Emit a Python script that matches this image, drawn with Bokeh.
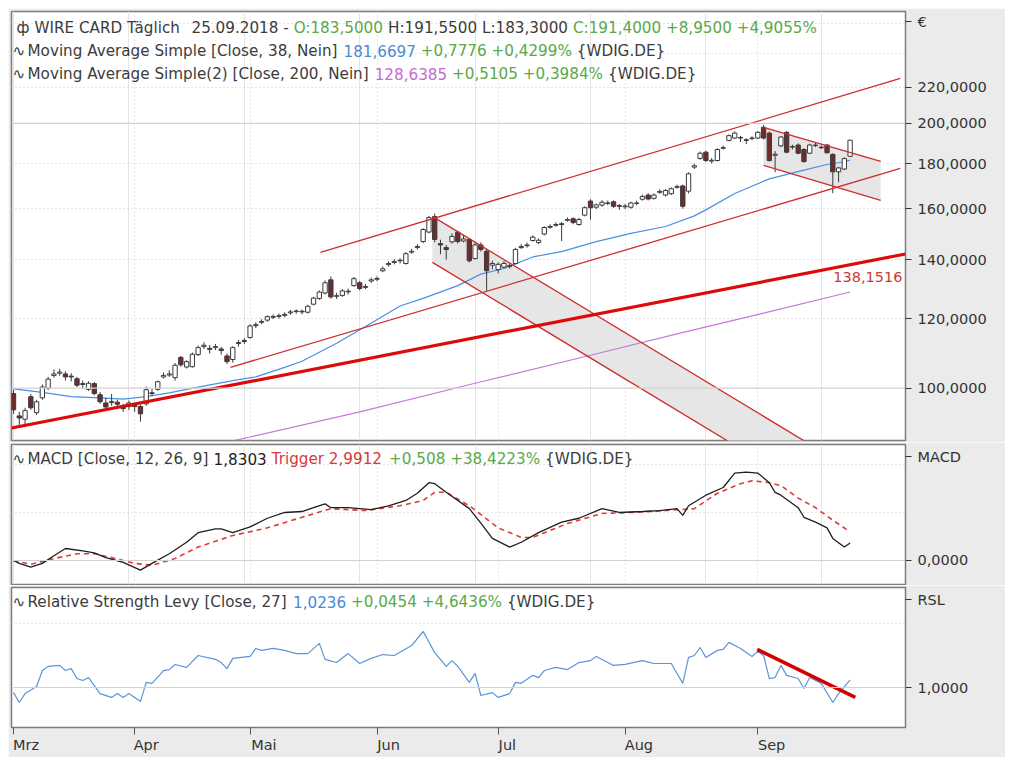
import math
from bokeh.plotting import figure
from bokeh.models import Range1d, FixedTicker, CustomJSTickFormatter, Label, Span, Grid, ColumnDataSource
from bokeh.layouts import column
from bokeh.embed import file_html
from bokeh.resources import INLINE

# ---------------- data ----------------
MONTH_TICKS = [0, 21, 41, 63, 84, 106, 129]
MONTH_NAMES = ["Mrz", "Apr", "Mai", "Jun", "Jul", "Aug", "Sep"]

OPEN = [98.6, 93.0, 92.2, 97.8, 93.8, 97.5, 100.0, 103.4, 104.0, 103.8,
        103.2, 102.5, 101.2, 99.7, 101.2, 98.3, 96.2, 96.3, 96.4, 95.2,
        95.3, 95.6, 95.3, 96.0, 98.8, 99.7, 103.0, 103.5, 102.8, 108.4,
        105.7, 105.8, 109.2, 111.5, 111.0, 111.2, 110.8, 108.8, 107.8, 112.4,
        113.0, 114.2, 117.8, 118.8, 119.5, 120.4, 120.7, 121.0, 121.8, 122.2,
        122.3, 122.0, 124.6, 126.5, 128.3, 132.8, 127.2, 127.5, 128.9, 130.8,
        131.8, 130.2, 132.4, 133.0, 136.0, 138.2, 139.0, 139.8, 138.6, 142.8,
        144.5, 146.8, 150.5, 156.7, 146.0, 144.5, 146.7, 150.4, 147.0, 147.6,
        140.4, 145.5, 143.1, 138.0, 136.4, 137.3, 137.8, 138.6, 144.5, 145.2,
        147.2, 146.4, 149.7, 152.4, 153.2, 153.8, 155.2, 155.8, 153.5, 157.3,
        163.2, 160.6, 161.5, 162.2, 162.9, 161.3, 160.8, 160.6, 162.2, 164.0,
        165.8, 164.4, 167.0, 165.8, 166.4, 169.2, 169.8, 167.5, 178.4, 182.5,
        185.5, 181.2, 181.5, 187.4, 191.3, 192.5, 192.8, 191.6, 192.2, 192.5,
        198.0, 195.0, 184.0, 188.6, 195.4, 188.2, 189.0, 186.8, 185.0, 188.7,
        187.9, 189.0, 184.4, 176.2, 177.5, 183.5]
HIGH = [99.5, 94.0, 95.0, 98.5, 97.0, 101.0, 103.0, 105.0, 105.2, 104.5,
        104.0, 103.0, 102.0, 101.8, 101.6, 99.0, 97.5, 98.5, 97.0, 96.0,
        96.8, 96.3, 95.8, 100.4, 99.8, 102.0, 104.2, 104.8, 106.8, 108.8,
        107.6, 109.8, 111.8, 112.8, 112.0, 112.3, 111.4, 109.5, 111.6, 113.4,
        114.0, 118.2, 118.8, 119.8, 121.0, 121.3, 121.6, 122.0, 122.8, 122.9,
        122.9, 124.4, 127.0, 129.2, 132.6, 134.0, 128.4, 129.6, 129.8, 133.8,
        132.4, 131.4, 133.6, 134.0, 137.5, 139.4, 140.2, 140.5, 142.8, 144.0,
        145.8, 152.0, 157.0, 158.0, 147.5, 145.5, 150.0, 151.0, 149.5, 148.2,
        146.5, 146.5, 144.0, 139.6, 139.0, 139.5, 138.6, 144.4, 145.8, 146.4,
        149.2, 148.0, 152.8, 153.6, 154.4, 154.5, 156.4, 156.4, 156.2, 161.0,
        164.0, 162.2, 163.6, 163.4, 163.5, 162.0, 162.0, 163.0, 163.4, 166.0,
        166.6, 166.5, 168.3, 168.4, 169.2, 170.4, 170.4, 176.0, 180.0, 185.8,
        186.2, 182.6, 187.4, 188.8, 194.3, 195.8, 193.6, 192.4, 193.4, 196.0,
        199.2, 195.8, 186.0, 193.5, 196.0, 189.2, 189.8, 187.5, 189.6, 190.0,
        188.8, 189.6, 185.0, 178.5, 183.0, 191.55]
LOW = [93.5, 90.8, 90.3, 94.5, 93.2, 97.0, 99.5, 102.8, 103.3, 102.0,
       101.8, 100.3, 99.8, 99.3, 98.2, 96.0, 94.5, 95.5, 94.8, 94.0,
       94.5, 94.0, 91.6, 95.5, 98.0, 99.3, 102.6, 103.0, 102.0, 105.8,
       105.3, 105.5, 108.8, 110.8, 109.5, 110.5, 109.2, 106.5, 106.9, 111.5,
       112.3, 113.8, 117.0, 118.2, 119.0, 119.8, 120.0, 120.4, 121.2, 121.5,
       121.3, 121.6, 124.2, 126.0, 127.8, 126.4, 126.3, 127.0, 127.8, 130.4,
       129.2, 129.6, 131.8, 132.3, 135.5, 137.5, 138.3, 138.6, 138.2, 142.2,
       143.8, 146.2, 150.0, 146.5, 142.0, 140.0, 146.0, 146.0, 146.5, 139.0,
       140.0, 143.0, 129.0, 136.5, 135.0, 136.8, 136.8, 138.2, 144.0, 144.5,
       146.8, 145.8, 149.2, 151.8, 152.6, 147.0, 154.6, 153.6, 153.0, 156.8,
       155.5, 159.8, 160.8, 161.5, 160.3, 159.5, 159.8, 160.0, 161.5, 163.4,
       163.5, 163.8, 166.3, 165.2, 165.8, 168.6, 160.0, 166.5, 177.5, 181.8,
       180.8, 180.2, 181.0, 186.8, 190.8, 192.0, 190.5, 189.5, 191.5, 192.0,
       191.8, 181.0, 176.0, 188.0, 185.0, 186.8, 184.5, 180.5, 184.6, 188.0,
       187.0, 184.8, 166.6, 171.5, 177.0, 183.3]
CLOSE = [94.5, 92.5, 94.3, 95.0, 96.5, 100.3, 102.4, 103.8, 104.3, 103.0,
         103.0, 100.8, 101.0, 101.3, 98.6, 96.5, 95.2, 96.6, 95.9, 94.8,
         96.2, 95.3, 93.5, 99.6, 98.6, 101.7, 103.4, 103.8, 106.2, 106.3,
         107.2, 109.3, 111.2, 111.9, 110.7, 111.5, 110.4, 107.2, 111.2, 112.7,
         113.3, 117.7, 118.1, 119.1, 120.6, 120.6, 120.9, 121.3, 122.1, 122.4,
         122.1, 123.9, 126.6, 128.6, 131.8, 127.0, 127.4, 129.0, 128.7, 133.2,
         129.8, 130.5, 132.8, 133.3, 136.7, 138.6, 139.3, 139.6, 142.2, 143.1,
         144.9, 151.5, 156.3, 147.6, 145.5, 143.8, 148.8, 146.8, 147.8, 139.6,
         145.5, 143.8, 136.0, 138.6, 138.3, 138.6, 137.6, 143.8, 144.9, 145.5,
         148.5, 147.3, 152.3, 152.7, 153.5, 153.5, 155.5, 154.3, 155.5, 160.4,
         160.4, 161.6, 162.7, 162.4, 161.0, 161.0, 161.1, 162.4, 162.4, 165.2,
         164.1, 165.8, 167.4, 167.8, 168.6, 169.5, 161.0, 175.3, 179.0, 185.0,
         181.5, 181.6, 186.8, 187.7, 193.7, 195.0, 192.5, 191.3, 192.5, 195.4,
         192.5, 181.5, 184.5, 193.0, 185.5, 188.0, 185.0, 181.0, 189.0, 189.0,
         187.7, 185.2, 176.2, 178.0, 182.4, 191.4]
IDX = list(range(len(CLOSE)))

PRICE_TICKS = [100, 120, 140, 160, 180, 200, 220]
PRICE_GRID_DOTTED = [120, 140, 160, 180, 220, 240, 260]
PRICE_GRID_SOLID = [100, 200]

MA38_IDX = [0, 5, 10, 15, 19, 23, 27, 32, 38, 42, 47, 50, 56, 61, 67, 71, 77, 81,
            85, 90, 95, 101, 107, 113, 118, 120, 125, 131, 137, 141, 144, 145]
MA38_VAL = [99.8, 98.9, 97.8, 97.5, 97.2, 97.8, 98.8, 100.3, 102.0, 103.0, 105.6, 107.3,
            112.5, 117.5, 124.0, 126.5, 130.8, 134.8, 136.8, 141.0, 143.0, 146.8, 150.0,
            152.7, 157.0, 159.5, 166.5, 173.0, 177.0, 179.6, 180.9, 181.67]
MA200_IDX = [30, 41, 60, 80, 100, 115, 130, 145]
MA200_VAL = [84.8, 88.0, 94.0, 101.3, 109.0, 115.3, 121.7, 128.64]

TREND_X = [-0.35, 154.6]
TREND_Y = [90.1, 142.1]
TREND_LABEL = "138,1516"
CH_UP_X = [53.2, 153.7]
CH_UP_Y = [142.7, 225.0]
CH_LO_X = [37.6, 153.7]
CH_LO_Y = [105.6, 177.8]
JUN_UP_X = [72.6, 140.0]
JUN_UP_Y = [156.8, 84.8]
JUN_LO_X = [72.6, 128.0]
JUN_LO_Y = [139.0, 83.8]
SEP_UP_X = [130.0, 150.3]
SEP_UP_Y = [197.9, 181.1]
SEP_LO_X = [130.0, 150.3]
SEP_LO_Y = [179.2, 163.5]

MACD_IDX = [0, 1, 3, 5, 7, 9, 12, 14, 16, 19, 22, 24, 27, 30, 32, 35, 36, 38, 41, 44,
            47, 50, 52, 54, 55, 58, 62, 65, 68, 70, 72, 73, 75, 79, 81, 83, 86, 88, 91, 95,
            98, 102, 105, 109, 112, 115, 116, 117, 120, 123, 125, 127, 129, 131, 132, 133,
            136, 137, 139, 141, 142, 144, 145]
MACD_VAL = [0.0, -0.3, -0.7, -0.3, 0.5, 1.25, 1.0, 0.8, 0.3, -0.2, -1.0, -0.3, 0.7, 1.9,
            2.9, 3.3, 3.3, 2.9, 3.5, 4.4, 5.0, 5.1, 5.5, 5.9, 5.5, 5.5, 5.3, 5.7, 6.25, 7.0,
            8.1, 8.0, 7.1, 5.4, 3.9, 2.3, 1.4, 1.9, 2.9, 4.0, 4.4, 5.4, 5.0, 5.1, 5.2, 5.4,
            4.7, 5.7, 6.8, 7.6, 9.1, 9.2, 9.1, 8.1, 7.1, 6.8, 5.5, 4.5, 4.0, 3.4, 2.3, 1.4,
            1.83]
TRIG_IDX = [0, 3, 7, 11, 14, 17, 21, 24, 28, 32, 38, 44, 50, 55, 61, 67, 71, 73, 75, 79,
            84, 88, 90, 96, 102, 107, 113, 118, 122, 126, 128, 131, 133, 136, 139, 142, 145]
TRIG_VAL = [0.0, -0.4, 0.2, 0.7, 0.7, 0.3, -0.3, -0.5, 0.2, 1.4, 2.6, 3.4, 4.5, 5.4, 5.2,
            5.7, 6.25, 7.1, 7.1, 5.7, 3.4, 2.4, 2.4, 3.85, 4.9, 5.0, 5.2, 5.4, 7.0, 8.0, 8.3,
            8.1, 7.8, 6.5, 5.5, 4.2, 2.99]
MACD_GRID = [5, 10]

RSL_IDX = [0, 1, 2, 4, 5, 6, 8, 9, 10, 11, 12, 13, 15, 17, 18, 19, 20, 22, 23, 24,
           26, 27, 28, 30, 32, 35, 36, 37, 38, 41, 42, 43, 45, 47, 49, 51, 53, 54, 56, 58,
           60, 62, 64, 66, 69, 71, 73, 75, 76, 77, 79, 80, 81, 83, 84, 86, 87, 88, 90, 91,
           92, 94, 96, 98, 100, 101, 104, 106, 109, 111, 114, 116, 117, 118, 119, 120, 122,
           123, 124, 126, 128, 129, 130, 131, 132, 133, 134, 136, 137, 138, 140, 142, 143, 145]
RSL_VAL = [0.984, 0.953, 0.981, 1.003, 1.053, 1.066, 1.069, 1.053, 1.059, 1.028, 1.022,
           1.031, 0.981, 0.969, 0.981, 0.969, 0.981, 0.956, 1.016, 1.013, 1.053, 1.056,
           1.072, 1.063, 1.100, 1.088, 1.078, 1.059, 1.091, 1.097, 1.122, 1.116, 1.122,
           1.116, 1.106, 1.106, 1.138, 1.088, 1.078, 1.106, 1.075, 1.091, 1.103, 1.100,
           1.131, 1.175, 1.109, 1.066, 1.084, 1.066, 1.016, 1.044, 0.975, 0.984, 0.969,
           0.981, 1.016, 1.013, 1.038, 1.031, 1.053, 1.063, 1.056, 1.078, 1.084, 1.097,
           1.069, 1.072, 1.084, 1.075, 1.075, 1.013, 1.094, 1.100, 1.125, 1.094, 1.116,
           1.119, 1.141, 1.122, 1.097, 1.113, 1.100, 1.028, 1.031, 1.069, 1.038, 1.028,
           0.997, 1.031, 1.013, 0.953, 0.981, 1.0236]
RSL_TREND_X = [128.9, 145.9]
RSL_TREND_Y = [1.119, 0.969]
RSL_GRID = [1.2]

HDR_MAIN_1 = [("WIRE CARD Täglich  ", "dark"), ("25.09.2018 - ", "dark"), ("O:183,5000 ", "green"),
              ("H:191,5500 L:183,3000 ", "dark"), ("C:191,4000 +8,9500 +4,9055%", "green")]
HDR_MAIN_2 = [("Moving Average Simple [Close, 38, Nein] ", "dark"), ("181,6697 ", "blue"),
              ("+0,7776 +0,4299% ", "green"), ("{WDIG.DE}", "dark")]
HDR_MAIN_3 = [("Moving Average Simple(2) [Close, 200, Nein] ", "dark"), ("128,6385 ", "violet"),
              ("+0,5105 +0,3984% ", "green"), ("{WDIG.DE}", "dark")]
HDR_MACD = [("MACD [Close, 12, 26, 9] ", "dark"), ("1,8303 ", "black"), ("Trigger 2,9912 ", "red"),
            ("+0,508 +38,4223% ", "green"), ("{WDIG.DE}", "dark")]
HDR_RSL = [("Relative Strength Levy [Close, 27] ", "dark"), ("1,0236 ", "blue"),
           ("+0,0454 +4,6436% ", "green"), ("{WDIG.DE}", "dark")]
AXIS_TAGS = ["€", "MACD", "RSL"]

# ---------------- styling / geometry ----------------
COL = {"dark": "#3c3c3c", "green": "#5aa84a", "blue": "#4a8ad4", "violet": "#c56bd0",
       "red": "#d43a3a", "black": "#1e1e1e"}
FONT = "DejaVu Sans"
HDR_SIZE = 15.2
FRAME_L, FRAME_R = 11, 905
X0, X1 = -0.35, 154.6
MAIN_T, MAIN_B, MAIN_LO, MAIN_HI = 11, 440, 87.2, 268.1
MACD_T, MACD_B, MACD_LO, MACD_HI = 444, 584, -2.5, 12.08
RSL_T, RSL_B, RSL_LO, RSL_HI = 587, 727, 0.875, 1.3125

CW = {' ': 651, '%': 1946, '(': 799, ')': 799, '+': 1716, ',': 651, '-': 739, '.': 651,
      ':': 690, '[': 799, ']': 799, '{': 1303, '}': 1303, 'A': 1401, 'C': 1430, 'D': 1577,
      'E': 1294, 'G': 1589, 'H': 1540, 'I': 604, 'J': 604, 'L': 1141, 'M': 1767, 'N': 1532,
      'O': 1612, 'R': 1423, 'S': 1300, 'T': 1251, 'W': 2025, 'a': 1255, 'c': 1126, 'e': 1260,
      'g': 1300, 'h': 1298, 'i': 569, 'l': 569, 'm': 1995, 'n': 1298, 'o': 1253, 'p': 1300,
      'r': 842, 's': 1067, 't': 803, 'u': 1298, 'v': 1212, 'y': 1212, 'z': 1075, 'ä': 1255,
      '\u00a0': 651}


def text_w(s, size):
    return sum(CW.get(ch, 1303) for ch in s) / 2048.0 * size


def px_x(px):
    return X0 + (px - FRAME_L) * (X1 - X0) / (FRAME_R - FRAME_L)


def py_log(py, top, bot, lo, hi):
    lt, lb = math.log(hi), math.log(lo)
    return math.exp(lt - (py - top) / (bot - top) * (lt - lb))


def py_lin(py, top, bot, lo, hi):
    return hi - (py - top) / (bot - top) * (hi - lo)


xr = Range1d(X0, X1)


def axis_formatter(tag_value, tag_text):
    return CustomJSTickFormatter(
        args=dict(tv=tag_value, tt=tag_text),
        code="if (Math.abs(tick - tv) < 1e-6 * Math.max(1, Math.abs(tv))) { return tt; } "
             "return tick.toFixed(4).replace('.', ',');")


def make_fig(height, y_range, y_type, btop, bbot, with_x):
    p = figure(width=997, height=height, x_range=xr, y_range=y_range, y_axis_type=y_type,
               x_axis_location="below" if with_x else None, y_axis_location="right",
               output_backend="svg", toolbar_location=None, title=None,
               min_border_left=3, min_border_right=100, min_border_top=btop, min_border_bottom=bbot)
    p.background_fill_color = "white"
    p.border_fill_color = "#ebebeb"
    p.outline_line_color = "#7c7c7c"
    p.outline_line_width = 1.5
    ya = p.yaxis[0]
    ya.axis_line_color = None
    ya.major_tick_in = 0
    ya.major_tick_out = 6
    ya.major_tick_line_color = "#333333"
    ya.major_tick_line_width = 1
    ya.minor_tick_line_color = None
    ya.major_label_standoff = 6
    ya.major_label_text_font = FONT
    ya.major_label_text_font_size = "14.5px"
    ya.major_label_text_color = "#333333"
    p.ygrid.grid_line_color = "#c8c8c8"
    p.ygrid.grid_line_dash = "1 3"
    g = Grid(dimension=0, ticker=FixedTicker(ticks=MONTH_TICKS[1:]),
             grid_line_color="#c8c8c8", grid_line_dash="1 3")
    p.add_layout(g)
    return p


def add_header(p, segs, x_start, py, ymap, icon=None):
    y = ymap(py)
    if icon:
        p.add_layout(Label(x=px_x(icon[1]), y=y, text=icon[0], text_font=FONT,
                           text_font_size="%.1fpx" % HDR_SIZE,
                           text_color=COL["dark"], text_align="left", text_baseline="middle"))
    cur = x_start
    for s, c in segs:
        p.add_layout(Label(x=px_x(cur), y=y, text=s.rstrip(), text_font=FONT,
                           text_font_size="%.1fpx" % HDR_SIZE, text_color=COL[c],
                           text_align="left", text_baseline="middle"))
        cur += text_w(s, HDR_SIZE)


# ---------------- main price panel ----------------
ymain = lambda py: py_log(py, MAIN_T, MAIN_B, MAIN_LO, MAIN_HI)
p1 = make_fig(434, Range1d(MAIN_LO, MAIN_HI), "log", 3, 2, False)
tag1 = ymain(21)
p1.yaxis[0].ticker = FixedTicker(ticks=PRICE_TICKS + [tag1])
p1.yaxis[0].formatter = axis_formatter(tag1, AXIS_TAGS[0])
p1.ygrid.ticker = FixedTicker(ticks=PRICE_GRID_DOTTED)
for v in PRICE_GRID_SOLID:
    p1.add_layout(Span(location=v, dimension="width", line_color="#d2d2d2", line_width=1.2))

fill = "#e6e6e6"
p1.patch(JUN_UP_X + JUN_LO_X[::-1], JUN_UP_Y + JUN_LO_Y[::-1], fill_color=fill, line_color=None)
p1.patch(SEP_UP_X + SEP_LO_X[::-1], SEP_UP_Y + SEP_LO_Y[::-1], fill_color=fill, line_color=None)

p1.line(MA200_IDX, MA200_VAL, line_color="#c877dc", line_width=1.2)
p1.line(MA38_IDX, MA38_VAL, line_color="#4a90e2", line_width=1.2)

src = ColumnDataSource(dict(
    x=IDX, o=OPEN, h=HIGH, l=LOW, c=CLOSE,
    top=[max(a, b) for a, b in zip(OPEN, CLOSE)],
    bot=[min(a, b) for a, b in zip(OPEN, CLOSE)],
    col=["white" if c >= o else "#6e2d2d" for o, c in zip(OPEN, CLOSE)],
))
p1.segment(x0="x", y0="l", x1="x", y1="h", source=src, line_color="#3a3a3a", line_width=1)
p1.vbar(x="x", top="top", bottom="bot", width=0.75, source=src, fill_color="col",
        line_color="#3a3a3a", line_width=1)

red_thin = "#cc2e2e"
for xs, ys in [(CH_UP_X, CH_UP_Y), (CH_LO_X, CH_LO_Y), (JUN_UP_X, JUN_UP_Y), (JUN_LO_X, JUN_LO_Y),
               (SEP_UP_X, SEP_UP_Y), (SEP_LO_X, SEP_LO_Y)]:
    p1.line(xs, ys, line_color=red_thin, line_width=1.3)
p1.line(TREND_X, TREND_Y, line_color="#dd0a0a", line_width=3.2)
p1.add_layout(Label(x=px_x(902), y=ymain(276), text=TREND_LABEL, text_font=FONT,
                    text_font_size="14.5px", text_color="#cc3a3a", text_align="right",
                    text_baseline="middle"))

add_header(p1, HDR_MAIN_1, 34, 27, ymain, icon=("ф", 16))
add_header(p1, HDR_MAIN_2, 27, 50, ymain, icon=("∿", 12))
add_header(p1, HDR_MAIN_3, 27, 73, ymain, icon=("∿", 12))

# ---------------- MACD panel ----------------
ymacd = lambda py: py_lin(py, MACD_T, MACD_B, MACD_LO, MACD_HI)
p2 = make_fig(143, Range1d(MACD_LO, MACD_HI), "linear", 2, 1, False)
tag2 = ymacd(456)
p2.yaxis[0].ticker = FixedTicker(ticks=[0, tag2])
p2.yaxis[0].formatter = axis_formatter(tag2, AXIS_TAGS[1])
p2.ygrid.ticker = FixedTicker(ticks=MACD_GRID)
p2.add_layout(Span(location=0, dimension="width", line_color="#d2d2d2", line_width=1.2))
p2.line([IDX[0], IDX[-1]], [0, 0], line_color="#5b8fd9", line_width=1.2, line_dash="1 2")
p2.line(TRIG_IDX, TRIG_VAL, line_color="#de3b3b", line_width=1.6, line_dash="5 4")
p2.line(MACD_IDX, MACD_VAL, line_color="#1e1e1e", line_width=1.3)
add_header(p2, HDR_MACD, 27, 458, ymacd, icon=("∿", 12))

# ---------------- RSL panel ----------------
yrsl = lambda py: py_lin(py, RSL_T, RSL_B, RSL_LO, RSL_HI)
p3 = make_fig(172, Range1d(RSL_LO, RSL_HI), "linear", 2, 30, True)
tag3 = yrsl(599)
p3.yaxis[0].ticker = FixedTicker(ticks=[1.0, tag3])
p3.yaxis[0].formatter = axis_formatter(tag3, AXIS_TAGS[2])
p3.ygrid.ticker = FixedTicker(ticks=RSL_GRID)
p3.add_layout(Span(location=1.0, dimension="width", line_color="#d2d2d2", line_width=1.2))
p3.line(RSL_IDX, RSL_VAL, line_color="#5b95d8", line_width=1.2)
p3.line(RSL_TREND_X, RSL_TREND_Y, line_color="#d40000", line_width=3.5)
add_header(p3, HDR_RSL, 27, 601, yrsl, icon=("∿", 12))

# month labels start at their tick: pad each centred label on the left by its own width
nb = "\u00a0"
padded = [nb * int(round(text_w(n, 14.5) / text_w(nb, 14.5))) + n for n in MONTH_NAMES]
padded[0] = nb + MONTH_NAMES[0]   # first label is pushed inside the canvas by bokeh
xa = p3.xaxis[0]
xa.ticker = FixedTicker(ticks=MONTH_TICKS)
xa.formatter = CustomJSTickFormatter(args=dict(mticks=MONTH_TICKS, mnames=padded),
                                     code="const i = mticks.indexOf(tick); return i >= 0 ? mnames[i] : '';")
xa.axis_line_color = None
xa.major_tick_in = 0
xa.major_tick_out = 7
xa.major_tick_line_color = "#555555"
xa.minor_tick_line_color = None
xa.major_label_standoff = 2
xa.major_label_text_font = FONT
xa.major_label_text_font_size = "14.5px"
xa.major_label_text_color = "#333333"
p3.xgrid.visible = False

layout = column(p1, p2, p3, margin=(8, 0, 0, 8))
open("out.html", "w").write(file_html(layout, INLINE))
